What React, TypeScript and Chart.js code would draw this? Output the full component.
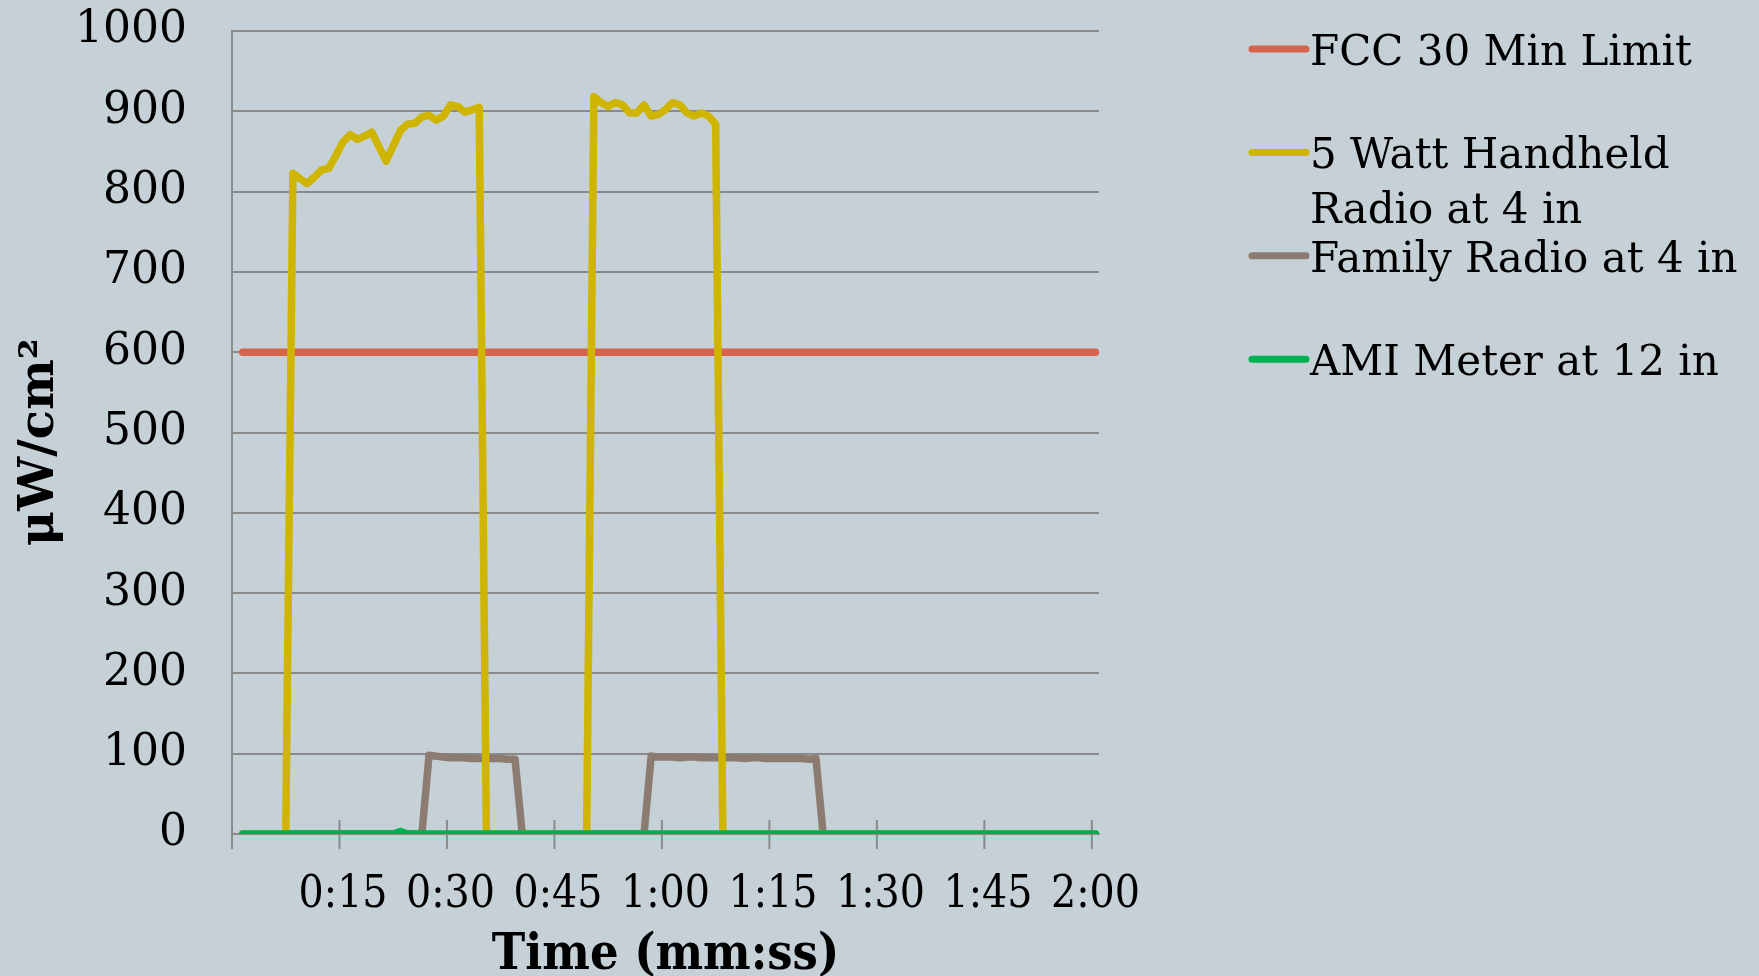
import React, { useEffect, useRef } from 'react';
import { Chart, registerables } from 'chart.js';

Chart.register(...registerables);

// Categories: one per second, 0:00 .. 2:00 (0:00 carries no sample)
const timeLabels: string[] = [];
for (let s = 0; s <= 120; s++) {
  timeLabels.push(`${Math.floor(s / 60)}:${String(s % 60).padStart(2, '0')}`);
}

const shownTickLabels = ['0:15', '0:30', '0:45', '1:00', '1:15', '1:30', '1:45', '2:00'];
const yTicks = { min: 0, max: 1000, step: 100 };

const seriesNames = [
  'FCC 30 Min Limit',
  '5 Watt Handheld Radio at 4 in',
  'Family Radio at 4 in',
  'AMI Meter at 12 in',
];
const seriesColors = ['#D6634A', '#CFB500', '#8C7B70', '#00B050'];

const fccLimit: (number | null)[] = [
  null,
  600, 600, 600, 600, 600, 600, 600, 600, 600, 600, 600, 600, 600, 600, 600, 600, 600, 600, 600, 600,
  600, 600, 600, 600, 600, 600, 600, 600, 600, 600, 600, 600, 600, 600, 600, 600, 600, 600, 600, 600,
  600, 600, 600, 600, 600, 600, 600, 600, 600, 600, 600, 600, 600, 600, 600, 600, 600, 600, 600, 600,
  600, 600, 600, 600, 600, 600, 600, 600, 600, 600, 600, 600, 600, 600, 600, 600, 600, 600, 600, 600,
  600, 600, 600, 600, 600, 600, 600, 600, 600, 600, 600, 600, 600, 600, 600, 600, 600, 600, 600, 600,
  600, 600, 600, 600, 600, 600, 600, 600, 600, 600, 600, 600, 600, 600, 600, 600, 600, 600, 600, 600,
];

const handheld5W: (number | null)[] = [
  null,
  0, 0, 0, 0, 0, 0, 0,
  823, 816, 810, 818, 827, 829, 845, 862, 871, 865, 869, 874, 856, 838, 857, 876, 884, 885, 893, 895,
  889, 894, 908, 906, 899, 902, 905,
  0, 0, 0, 0, 0, 0, 0, 0, 0, 0, 0, 0, 0, 0, 0,
  918, 911, 906, 911, 908, 898, 898, 908, 894, 896, 902, 911, 908, 898, 894, 898, 894, 884,
  0, 0, 0, 0, 0, 0, 0, 0, 0, 0, 0, 0, 0, 0, 0, 0, 0, 0, 0, 0,
  0, 0, 0, 0, 0, 0, 0, 0, 0, 0, 0, 0, 0, 0, 0, 0, 0, 0, 0, 0,
  0, 0, 0, 0, 0, 0, 0, 0, 0, 0, 0, 0, 0,
];

const familyRadio: (number | null)[] = [
  null,
  0, 0, 0, 0, 0, 0, 0, 0, 0, 0, 0, 0, 0, 0, 0, 0, 0, 0, 0, 0, 0, 0, 0, 0, 0, 0,
  98, 97, 96, 95, 95, 95, 94, 94, 94, 94, 94, 93, 93,
  0, 0, 0, 0, 0, 0, 0, 0, 0, 0, 0, 0, 0, 0, 0, 0, 0, 0,
  97, 96, 96, 96, 95, 96, 96, 95, 95, 95, 95, 95, 95, 94, 95, 95, 94, 94, 94, 94, 94, 94, 93, 94,
  0, 0, 0, 0, 0, 0, 0, 0, 0, 0, 0, 0, 0, 0, 0, 0, 0, 0, 0, 0,
  0, 0, 0, 0, 0, 0, 0, 0, 0, 0, 0, 0, 0, 0, 0, 0, 0, 0, 0,
];

const amiMeter: (number | null)[] = [
  null,
  0, 0, 0, 0, 0, 0, 0, 0, 0, 0, 0, 0, 0, 0, 0, 0, 0, 0, 0, 0, 0, 0,
  3,
  0, 0, 0, 0, 0, 0, 0, 0, 0, 0, 0, 0, 0, 0, 0, 0, 0, 0, 0, 0,
  0, 0, 0, 0, 0, 0, 0, 0, 0, 0, 0, 0, 0, 0, 0, 0, 0, 0, 0, 0,
  0, 0, 0, 0, 0, 0, 0, 0, 0, 0, 0, 0, 0, 0, 0, 0, 0, 0, 0, 0,
  0, 0, 0, 0, 0, 0, 0, 0, 0, 0, 0, 0, 0, 0, 0, 0, 0, 0, 0, 0,
  0, 0, 0, 0, 0, 0, 0, 0, 0, 0, 0, 0, 0, 0, 0, 0, 0,
];

const BG = '#C5D0D7';
const GRID = '#8A8A8A';
const SERIF = '"DejaVu Serif", serif';
const SERIF_COND = '"DejaVu Serif Condensed", "DejaVu Serif", serif';

const crossTicksPlugin = {
  id: 'crossTicks',
  beforeDatasetsDraw(chart: any) {
    const x = chart.scales.x;
    const y = chart.scales.y;
    const ctx = chart.ctx;
    const y0 = y.getPixelForValue(0);
    const step = x.getPixelForValue(1) - x.getPixelForValue(0);
    ctx.save();
    ctx.strokeStyle = GRID;
    ctx.lineWidth = 2;
    timeLabels.forEach((lab, i) => {
      if (i !== 0 && !shownTickLabels.includes(lab)) return;
      const px = x.getPixelForValue(i) - step / 2;
      ctx.beginPath();
      ctx.moveTo(px, i === 0 ? y0 : y0 - 14);
      ctx.lineTo(px, y0 + 15);
      ctx.stroke();
    });
    ctx.restore();
  },
};

const sideLegendPlugin = {
  id: 'sideLegend',
  afterDraw(chart: any) {
    const ctx = chart.ctx;
    const left = chart.chartArea.right + 150;
    const textX = left + 61;
    const maxW = chart.width - textX - 4;
    ctx.save();
    ctx.font = `42px ${SERIF}`;
    ctx.fillStyle = '#000';
    ctx.textBaseline = 'alphabetic';
    ctx.textAlign = 'left';
    chart.data.datasets.forEach((ds: any, i: number) => {
      const my = 49 + i * 103.4;
      ctx.strokeStyle = ds.borderColor;
      ctx.lineWidth = 7;
      ctx.lineCap = 'round';
      ctx.beginPath();
      ctx.moveTo(left + 3, my);
      ctx.lineTo(left + 57, my);
      ctx.stroke();
      const words = String(ds.label).split(' ');
      const lines: string[] = [];
      let cur = '';
      words.forEach((w) => {
        const test = cur ? cur + ' ' + w : w;
        if (ctx.measureText(test).width > maxW && cur) {
          lines.push(cur);
          cur = w;
        } else cur = test;
      });
      if (cur) lines.push(cur);
      lines.forEach((t, k) => ctx.fillText(t, textX, my + 16 + k * 55));
    });
    ctx.restore();
  },
};

export default function App() {
  const ref = useRef<HTMLCanvasElement | null>(null);

  useEffect(() => {
    if (!ref.current) return;
    const series = [fccLimit, handheld5W, familyRadio, amiMeter];
    const drawOrder = [3, 1, 2, 0];
    const chart = new Chart(ref.current, {
      type: 'line',
      data: {
        labels: timeLabels,
        datasets: series.map((d, i) => ({
          label: seriesNames[i],
          data: d,
          borderColor: seriesColors[i],
          backgroundColor: seriesColors[i],
          borderWidth: 7.5,
          pointRadius: 0,
          tension: 0,
          fill: false,
          borderCapStyle: 'round' as const,
          borderJoinStyle: 'round' as const,
          order: drawOrder[i],
        })),
      },
      options: {
        animation: false,
        responsive: true,
        maintainAspectRatio: false,
        layout: { padding: { left: 0, top: 31, right: 660, bottom: 0 } },
        plugins: {
          legend: { display: false },
          tooltip: { enabled: false },
        },
        scales: {
          x: {
            type: 'category',
            offset: true,
            grid: { display: false, drawTicks: false },
            border: { display: true, color: GRID, width: 2 },
            ticks: {
              autoSkip: false,
              maxRotation: 0,
              minRotation: 0,
              padding: 35,
              color: '#000',
              font: { family: SERIF_COND, size: 44, lineHeight: 1.2 },
              callback: (_v: any, idx: number) =>
                shownTickLabels.includes(timeLabels[idx]) ? timeLabels[idx] : '',
            },
            title: {
              display: true,
              text: 'Time (mm:ss)',
              color: '#000',
              font: { family: SERIF_COND, size: 50, weight: 'bold', lineHeight: 1.0 },
              padding: { top: 0, bottom: -5 },
            },
            afterFit: (scale: any) => {
              scale.height = 142;
              scale.paddingLeft = 0;
              scale.paddingRight = 0;
            },
          },
          y: {
            min: yTicks.min,
            max: yTicks.max,
            grid: { color: GRID, lineWidth: 2, drawTicks: false },
            border: { display: true, color: GRID, width: 2 },
            ticks: {
              stepSize: yTicks.step,
              padding: 45,
              color: '#000',
              font: { family: SERIF, size: 44 },
              callback: (v: any) => String(v),
            },
            title: {
              display: true,
              text: 'μW/cm²\u2009\u2009',
              color: '#000',
              font: { family: SERIF, size: 48, weight: 'bold', lineHeight: 1.2 },
              padding: { top: 12, bottom: 0 },
            },
            afterFit: (scale: any) => {
              scale.width = 232;
              scale.paddingTop = 0;
              scale.paddingBottom = 0;
            },
          },
        },
      },
      plugins: [crossTicksPlugin, sideLegendPlugin],
    });
    return () => chart.destroy();
  }, []);

  return (
    <div
      style={{
        position: 'fixed',
        left: 0,
        top: 0,
        width: 1759,
        height: 976,
        background: BG,
      }}
    >
      <canvas ref={ref} />
    </div>
  );
}
